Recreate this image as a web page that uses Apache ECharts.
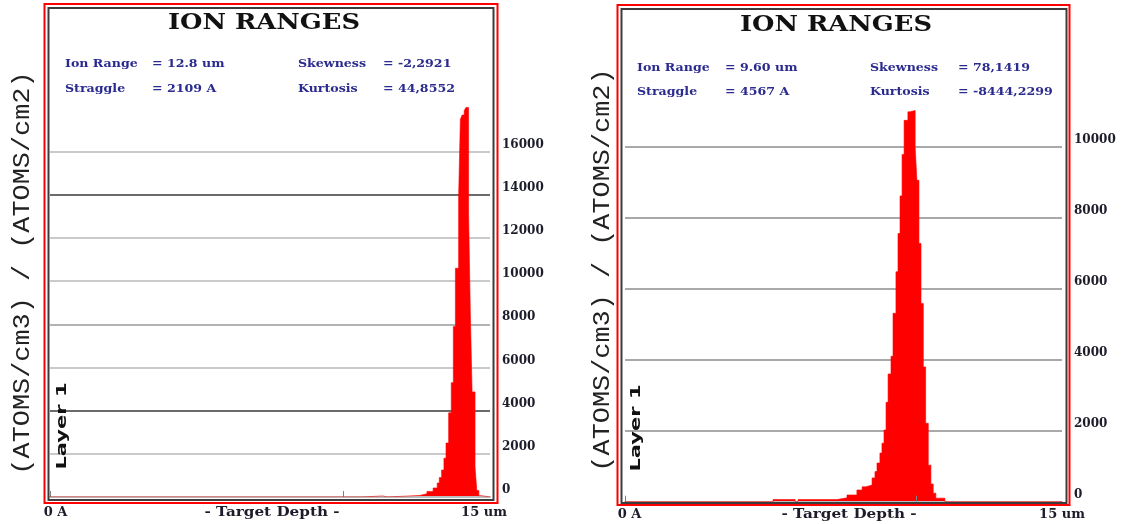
<!DOCTYPE html>
<html>
<head>
<meta charset="utf-8">
<script src="https://cdn.jsdelivr.net/npm/echarts@6/dist/echarts.min.js"></script>
<style>
  html, body { margin: 0; padding: 0; background: #ffffff; }
  #chart { width: 1121px; height: 524px; }
</style>
</head>
<body>
<div id="chart"></div>
<script>
// Ion range histograms: each point starts a bin that holds its value until the next depth.
// Depth in um, concentration in (atoms/cm3)/(atoms/cm2).
const depthA = [0, 10.64, 11.35, 11.49, 12.27, 12.60, 12.85, 13.06, 13.20, 13.27, 13.35, 13.43, 13.50, 13.59, 13.68, 13.75, 13.82, 13.93, 13.99, 14.05, 14.12, 14.18, 14.27, 14.33, 14.39, 14.49, 14.55, 14.62, 14.72, 15];
const countA = [0, 50, 0, 50, 70, 150, 260, 420, 650, 900, 1250, 1800, 2500, 3900, 5300, 7900, 10600, 13900, 17500, 17700, 17900, 18050, 13150, 8500, 4870, 1400, 300, 60, 0, 0];

const depthB = [0, 5.08, 5.84, 5.94, 7.28, 7.62, 7.96, 8.14, 8.27, 8.48, 8.58, 8.65, 8.75, 8.82, 8.89, 8.96, 9.03, 9.13, 9.20, 9.30, 9.37, 9.44, 9.51, 9.58, 9.71, 9.78, 9.96, 10.02, 10.09, 10.16, 10.24, 10.32, 10.41, 10.50, 10.58, 10.67, 10.98, 15];
const countB = [0, 60, 0, 60, 110, 190, 330, 420, 470, 670, 850, 1090, 1370, 1650, 2020, 2800, 3600, 4100, 5310, 6480, 7560, 8620, 9790, 10750, 10990, 11030, 9990, 9060, 7280, 5590, 3800, 2210, 1030, 500, 240, 100, 0, 0];

// Summary statistics printed at the top of each panel
const statLabelsLeft  = ['Ion Range', 'Straggle'];
const statLabelsRight = ['Skewness', 'Kurtosis'];
const statValuesA = ['= 12.8 um', '= 2109 A', '= -2,2921', '= 44,8552'];
const statValuesB = ['= 9.60 um', '= 4567 A', '= 78,1419', '= -8444,2299'];

// Axis settings
const depthRange = [0, 15];
const depthTicks = [0, 10];
const yTopLabelA = 16000, yMaxA = 20000;
const yTopLabelB = 10000, yMaxB = 12000;
const yStep = 2000;

const TITLE = 'ION RANGES';
const X_NAME = '- Target Depth -';
const Y_NAME = '(ATOMS/cm3) / (ATOMS/cm2)';
const LAYER = 'Layer 1';

const RED = '#ff0000';
const STAT_COLOR = '#2b2b8f';
const INK = '#1c1c2a';
const SERIF = '"DejaVu Serif", serif';

const toPairs = (xs, ys) => xs.map((x, i) => [x, ys[i]]);

function xAxisFor(gridIndex, minPad, maxPad, margin) {
  return {
    type: 'value', gridIndex, min: depthRange[0], max: depthRange[1], interval: 10, z: 3,
    axisLine: { show: true, lineStyle: { color: '#bdbdbd', width: 2 } },
    axisTick: { show: true, inside: true, length: 6, customValues: depthTicks, lineStyle: { color: '#808080', width: 1 } },
    axisLabel: {
      show: true, margin, fontFamily: SERIF, fontWeight: 'bold', fontSize: 13, color: INK,
      formatter: v => (v === 0 ? '{lo|0 A}' : (v === 15 ? '{hi|15 um}' : '')),
      rich: {
        lo: { fontFamily: SERIF, fontWeight: 'bold', fontSize: 13, color: INK, padding: [0, 0, 0, minPad] },
        hi: { fontFamily: SERIF, fontWeight: 'bold', fontSize: 13, color: INK, padding: [0, maxPad, 0, 0] }
      }
    },
    splitLine: { show: false }
  };
}

function yAxisFor(gridIndex, max, topLabel, lineColors) {
  return {
    type: 'value', gridIndex, position: 'right', min: 0, max, interval: yStep,
    axisLine: { show: false }, axisTick: { show: false },
    axisLabel: {
      show: true, margin: 12, fontFamily: SERIF, fontWeight: 'bold', fontSize: 12, color: INK,
      verticalAlign: 'bottom', padding: [0, 0, 1, 0],
      formatter: v => (v <= topLabel ? String(v) : '')
    },
    splitLine: { show: true, lineStyle: { color: lineColors, width: 1.5 } }
  };
}

const LIGHT = '#b9b9b9', DARK = '#3a3a3a', MID = '#9a9a9a', GREY = '#8c8c8c', NONE = 'rgba(0,0,0,0)';

function histSeries(idx, xs, ys) {
  return {
    type: 'line', xAxisIndex: idx, yAxisIndex: idx, step: 'end',
    data: toPairs(xs, ys), symbol: 'none', silent: true,
    lineStyle: { width: 0.6, color: RED },
    areaStyle: { color: RED, opacity: 1 }
  };
}

// Panel frames and texts
function panelGraphics(p) {
  const g = [];
  g.push({ type: 'rect', shape: { x: p.rx, y: p.ry, width: p.rw, height: p.rh },
           style: { fill: null, stroke: RED, lineWidth: 2 }, z: 10 });
  g.push({ type: 'rect', shape: { x: p.dx, y: p.dy, width: p.dw, height: p.dh },
           style: { fill: null, stroke: '#3c3c3c', lineWidth: 2 }, z: 10 });
  g.push({ type: 'text', x: p.titleX, y: p.titleY, scaleX: 1.17, z: 11,
           style: { text: TITLE, fill: '#111', font: 'bold 22px ' + SERIF, textAlign: 'center', textVerticalAlign: 'middle' } });
  const rows = [p.row1, p.row2];
  for (let i = 0; i < 2; i++) {
    const common = { font: 'bold 10.5px ' + SERIF, fill: STAT_COLOR, textVerticalAlign: 'middle' };
    g.push({ type: 'text', x: p.c1, y: rows[i], scaleX: 1.2, z: 11, style: Object.assign({ text: statLabelsLeft[i] }, common) });
    g.push({ type: 'text', x: p.c2, y: rows[i], scaleX: 1.2, z: 11, style: Object.assign({ text: p.values[i] }, common) });
    g.push({ type: 'text', x: p.c3, y: rows[i], scaleX: 1.2, z: 11, style: Object.assign({ text: statLabelsRight[i] }, common) });
    g.push({ type: 'text', x: p.c4, y: rows[i], scaleX: 1.2, z: 11, style: Object.assign({ text: p.values[i + 2] }, common) });
  }
  g.push({ type: 'text', x: p.xNameX, y: p.xNameY, scaleX: 1.17, z: 11,
           style: { text: X_NAME, fill: INK, font: 'bold 13px ' + SERIF, textAlign: 'center', textVerticalAlign: 'middle' } });
  g.push({ type: 'text', x: p.yNameX, y: p.yNameY, rotation: Math.PI / 2, scaleX: 1.12, z: 11,
           style: { text: Y_NAME, fill: '#222', font: '24px "Liberation Mono", monospace', textAlign: 'center', textVerticalAlign: 'middle' } });
  g.push({ type: 'text', x: p.layerX, y: p.layerY, rotation: Math.PI / 2, scaleX: 1.5, z: 11,
           style: { text: LAYER, fill: '#111', font: 'bold 14px "DejaVu Sans", sans-serif', textAlign: 'center', textVerticalAlign: 'middle' } });
  return g;
}

const panelA = {
  rx: 44.5, ry: 4, rw: 453, rh: 499, dx: 48.5, dy: 8, dw: 445, dh: 492,
  titleX: 264, titleY: 23, row1: 64, row2: 89, c1: 65, c2: 152, c3: 298, c4: 383,
  values: statValuesA, xNameX: 272, xNameY: 513, yNameX: 23, yNameY: 273, layerX: 62, layerY: 426
};
const panelB = {
  rx: 617.5, ry: 5, rw: 452, rh: 500, dx: 621.5, dy: 9, dw: 445, dh: 494,
  titleX: 836, titleY: 25, row1: 68, row2: 92, c1: 637, c2: 725, c3: 870, c4: 958,
  values: statValuesB, xNameX: 849, xNameY: 515, yNameX: 603, yNameY: 270, layerX: 636, layerY: 428
};

const chart = echarts.init(document.getElementById('chart'), null, { renderer: 'canvas' });
chart.setOption({
  animation: false,
  backgroundColor: '#ffffff',
  grid: [
    { left: 50, right: 631, top: 65.4, bottom: 27, outerBoundsMode: 'none', containLabel: false },
    { left: 625, right: 59, top: 76, bottom: 22.3, outerBoundsMode: 'none', containLabel: false }
  ],
  xAxis: [xAxisFor(0, 11, 12, 9), xAxisFor(1, 9, 0, 6)],
  yAxis: [
    yAxisFor(0, yMaxA, yTopLabelA, [NONE, LIGHT, DARK, LIGHT, MID, LIGHT, LIGHT, DARK, LIGHT, NONE, NONE]),
    yAxisFor(1, yMaxB, yTopLabelB, [NONE, GREY, GREY, GREY, GREY, GREY, NONE])
  ],
  series: [histSeries(0, depthA, countA), histSeries(1, depthB, countB)],
  graphic: panelGraphics(panelA).concat(panelGraphics(panelB))
});
</script>
</body>
</html>
